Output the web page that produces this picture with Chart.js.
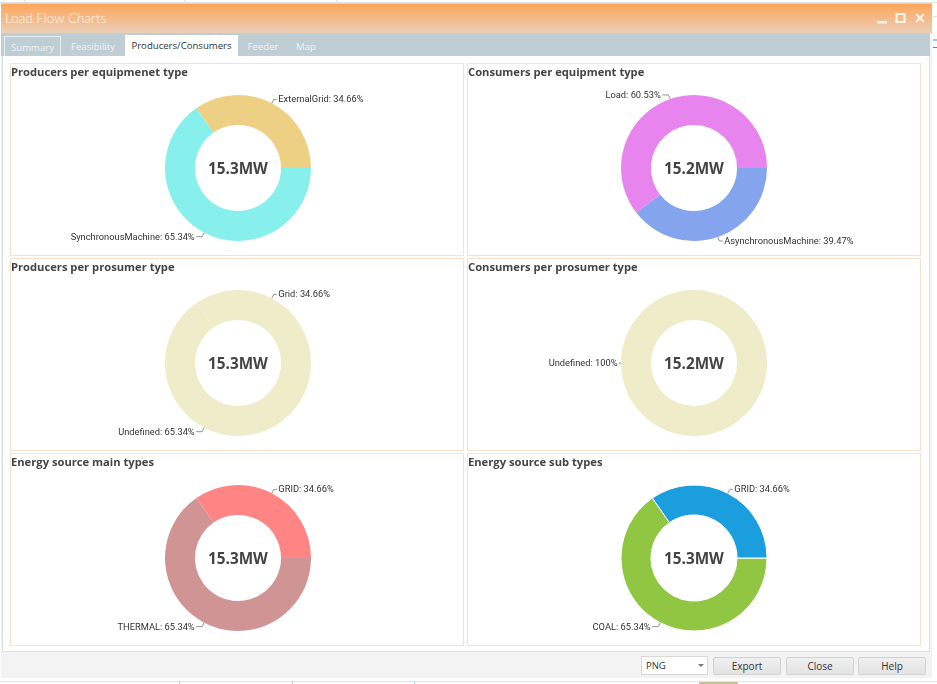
<!DOCTYPE html>
<html>
<head>
<meta charset="utf-8">
<title>Load Flow Charts</title>
<script src="https://cdn.jsdelivr.net/npm/chart.js@4"></script>
<style>
    html, body { margin: 0; padding: 0; background: #fff; }
    body { width: 937px; height: 684px; position: relative; overflow: hidden; font-family: "Open Sans", "Noto Sans", sans-serif; }
    #win { position: absolute; left: 1px; top: 3px; width: 931px; height: 675px; background: #f3f3f3; border-top: 1px solid #d5d5d5; box-sizing: border-box; }
    #titlebar { position: absolute; left: 0; top: 0; width: 100%; height: 29px; background: linear-gradient(#ffa65a, #e9cfb8); color: #fff6ee; font-family: Lato, sans-serif; font-weight: 300; font-size: 13.5px; line-height: 28px; padding-left: 4px; box-sizing: border-box; }
    #btns { position: absolute; left: 0; top: 0; }
    #tabbar { position: absolute; left: 0; top: 29px; width: 929px; height: 23px; background: #bfced5; }
    .tab { position: absolute; top: 3px; height: 20px; line-height: 21px; font-size: 9.6px; color: #eef3f5; text-align: center; box-sizing: border-box; }
    .tab.on { background: #fff; color: #333; top: 2px; height: 21px; }
    .tab.box { border: 1px solid #e6eef1; border-bottom: none; }
    #content { position: absolute; left: 2px; top: 56px; width: 928px; height: 596px; background: #fff; border: 1px solid #d9e2ea; border-top: none; box-sizing: border-box; }
    .panel { position: absolute; width: 454px; height: 193px; border: 1px solid #fde0cb; box-sizing: border-box; background: #fff; }
    .panel h3 { position: absolute; left: 0; top: 0; margin: 0; font-size: 11.2px; font-weight: 700; color: #444; line-height: 15px; white-space: nowrap; }
    .panel canvas { position: absolute; left: 0; top: 0; }
    .sel { position: absolute; left: 641px; top: 656px; width: 67px; height: 19px; background: #fff; border: 1px solid #d8d8d8; box-sizing: border-box; font-size: 9.5px; color: #333; line-height: 18px; padding-left: 4px; }
    .sel i { position: absolute; right: 3px; top: 7px; width: 0; height: 0; border-left: 3px solid transparent; border-right: 3px solid transparent; border-top: 3px solid #777; }
    .btn { position: absolute; top: 657px; width: 68px; height: 18px; box-sizing: border-box; font-size: 10px; color: #333; background: linear-gradient(#f0f0f0, #e3e3e3); border: 1px solid #d2d2d2; border-radius: 2px; line-height: 17px; text-align: center; }
    .mark { position: absolute; }
</style>
</head>
<body>
<!-- bits of the desktop showing around the window -->
<div class="mark" style="left:0;top:2px;width:937px;height:1px;background:#e2e2e2"></div>
<div class="mark" style="left:24px;top:0;width:1px;height:3px;background:#e2e2e2"></div>
<div class="mark" style="left:184px;top:0;width:1px;height:3px;background:#e2e2e2"></div>
<div class="mark" style="left:336px;top:0;width:1px;height:3px;background:#e2e2e2"></div>
<div class="mark" style="left:933px;top:16px;width:4px;height:1px;background:#e4e4e4"></div>
<div class="mark" style="left:933px;top:39px;width:4px;height:2px;background:#8ecdf0"></div>
<div class="mark" style="left:933px;top:47px;width:4px;height:1px;background:#777"></div>
<div class="mark" style="left:0;top:681px;width:937px;height:1px;background:#e6e6e6"></div>
<div class="mark" style="left:179px;top:681px;width:1px;height:3px;background:#b9b9ee"></div>
<div class="mark" style="left:292px;top:681px;width:1px;height:3px;background:#b9b9ee"></div>
<div class="mark" style="left:414px;top:681px;width:1px;height:3px;background:#9fd4f2"></div>
<div class="mark" style="left:699px;top:682px;width:39px;height:2px;background:#c9bf9d"></div>

<div id="win">
    <div id="titlebar">Load Flow Charts
        <svg id="btns" width="931" height="29">
            <rect x="876" y="17" width="10" height="2.4" fill="#fff" opacity="0.85"/>
            <rect x="895.5" y="10" width="8" height="8" fill="none" stroke="#fff" stroke-width="2" opacity="0.85"/>
            <path d="M915 10 L923 18 M923 10 L915 18" stroke="#fff" stroke-width="2" opacity="0.85"/>
        </svg>
    </div>
    <div id="tabbar">
        <div class="tab box" style="left:3px;width:57px">Summary</div>
        <div class="tab" style="left:62px;width:60px">Feasibility</div>
        <div class="tab on" style="left:124px;width:113px">Producers/Consumers</div>
        <div class="tab" style="left:240px;width:44px">Feeder</div>
        <div class="tab" style="left:288px;width:34px">Map</div>
    </div>
</div>
<div id="content"></div>
<div id="panels"></div>
<div class="sel">PNG<i></i></div>
<div class="btn" style="left:713px">Export</div>
<div class="btn" style="left:786px">Close</div>
<div class="btn" style="left:858px">Help</div>

<script>
    // one entry per panel, listed clockwise from 3 o'clock
    const titles = [
        'Producers per equipmenet type', 'Consumers per equipment type',
        'Producers per prosumer type', 'Consumers per prosumer type',
        'Energy source main types', 'Energy source sub types'
    ];
    const totals = ['15.3MW', '15.2MW', '15.3MW', '15.2MW', '15.3MW', '15.3MW'];
    const categories = [
        ['SynchronousMachine', 'ExternalGrid'],
        ['AsynchronousMachine', 'Load'],
        ['Undefined', 'Grid'],
        ['Undefined'],
        ['THERMAL', 'GRID'],
        ['COAL', 'GRID']
    ];
    const shares = [
        [65.34, 34.66],
        [39.47, 60.53],
        [65.34, 34.66],
        [100],
        [65.34, 34.66],
        [65.34, 34.66]
    ];
    const colors = [
        ['#88f0ec', '#eed084'],
        ['#84a4ee', '#e884ee'],
        ['#eeecc9', '#eeecc9'],
        ['#eeecc9'],
        ['#d19494', '#ff8484'],
        ['#90c642', '#1b9ede']
    ];
    const panelLeft = [10, 467];
    const panelTop = [63, 258, 453];

    // leader lines and "name: pct%" text at each slice's mid angle
    const sliceLabels = {
        id: 'sliceLabels',
        afterDatasetsDraw(chart) {
            const ctx = chart.ctx;
            const meta = chart.getDatasetMeta(0);
            ctx.save();
            ctx.font = '9.3px Roboto';
            ctx.fillStyle = '#333';
            ctx.strokeStyle = '#777';
            ctx.lineWidth = 0.8;
            ctx.textBaseline = 'middle';
            meta.data.forEach((arc, i) => {
                const p = arc.getProps(['x', 'y', 'startAngle', 'endAngle', 'outerRadius'], true);
                const mid = (p.startAngle + p.endAngle) / 2;
                const cos = Math.cos(mid), sin = Math.sin(mid);
                const ax = p.x + cos * p.outerRadius, ay = p.y + sin * p.outerRadius;
                const side = cos >= 0 ? 1 : -1;
                const straight = Math.abs(sin) < 0.1;
                const by = straight ? ay : ay + Math.sign(sin) * 4;
                const gap = straight ? 2 : (side > 0 ? 5 : 8);
                const value = chart.data.datasets[0].data[i];
                const text = chart.data.labels[i] + ': ' + value + '%';
                ctx.beginPath();
                ctx.moveTo(ax, ay);
                ctx.lineTo(ax + side * 2, by);
                ctx.lineTo(ax + side * gap, by);
                ctx.stroke();
                ctx.textAlign = side > 0 ? 'left' : 'right';
                ctx.fillText(text, ax + side * (gap + 1.5), by + 0.5);
            });
            ctx.fillStyle = '#444';
            ctx.font = 'bold 15.3px "Open Sans"';
            ctx.textAlign = 'center';
            const c = meta.data[0];
            ctx.fillText(chart.options.plugins.sliceLabels.total, c.x, c.y + 1.5);
            ctx.restore();
        }
    };

    const makePanel = (idx) => {
        const panel = document.createElement('div');
        panel.className = 'panel';
        panel.style.left = panelLeft[idx % 2] + 'px';
        panel.style.top = panelTop[Math.floor(idx / 2)] + 'px';
        const h = document.createElement('h3');
        h.textContent = titles[idx];
        const canvas = document.createElement('canvas');
        canvas.width = 452;
        canvas.height = 191;
        panel.append(canvas, h);
        document.getElementById('panels').append(panel);

        // last panel has white gaps between slices, which eats a bit of radius
        const edge = idx === 5 ? 1 : 0;
        const grow = edge * 0.5;
        const nudge = idx % 2 === 0 ? 1 : 0;

        new Chart(canvas, {
            type: 'doughnut',
            data: {
                labels: categories[idx],
                datasets: [{
                    data: shares[idx],
                    backgroundColor: colors[idx],
                    borderColor: '#fff',
                    borderWidth: edge
                }]
            },
            options: {
                responsive: false,
                animation: false,
                rotation: 90,
                cutout: '59%',
                layout: { padding: { left: 153 + nudge - grow, right: 153 - nudge - grow, top: 31 - grow, bottom: 14 - grow } },
                plugins: {
                    legend: { display: false },
                    tooltip: { enabled: false },
                    sliceLabels: { total: totals[idx] }
                }
            },
            plugins: [sliceLabels]
        });
    };

    titles.forEach((t, i) => makePanel(i));
</script>
</body>
</html>
